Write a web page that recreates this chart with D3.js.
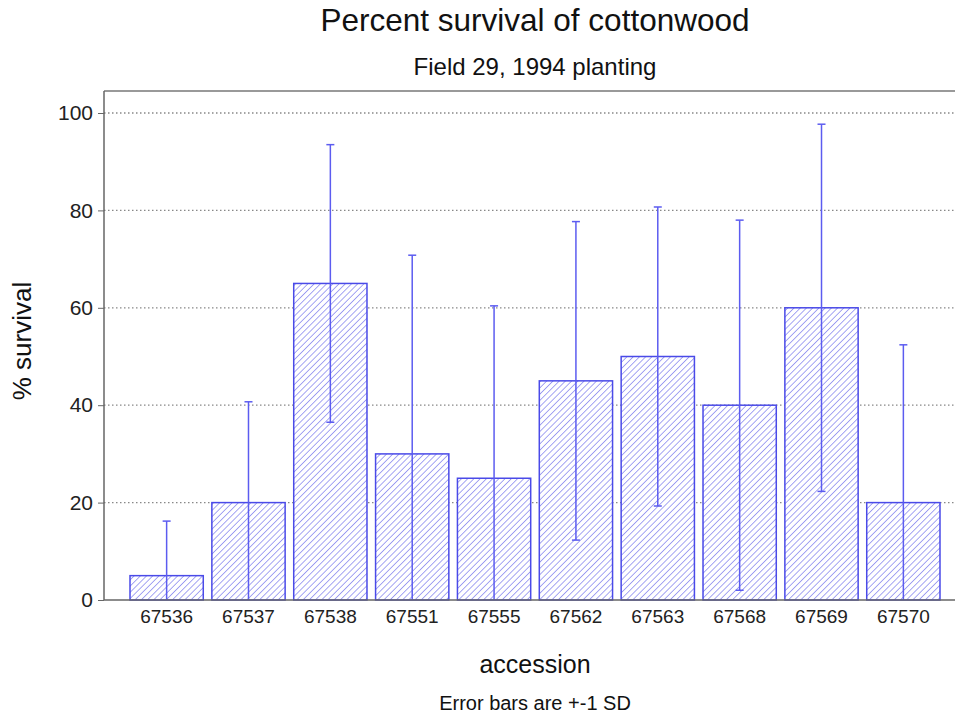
<!DOCTYPE html>
<html>
<head>
<meta charset="utf-8">
<script src="https://cdn.jsdelivr.net/npm/d3@7"></script>
<style>
  html, body { margin: 0; padding: 0; background: #fff; }
  svg { display: block; font-family: "Liberation Sans", Arial, sans-serif; }
</style>
</head>
<body>
<svg id="chart" width="955" height="715"></svg>
<script>
// Accessions and their mean percent survival with one standard deviation
const accessions = ["67536", "67537", "67538", "67551", "67555", "67562", "67563", "67568", "67569", "67570"];
const survival = [5, 20, 65, 30, 25, 45, 50, 40, 60, 20];
const sd = [11.2, 20.7, 28.5, 40.8, 35.4, 32.7, 30.7, 38, 37.7, 32.4];
const yTicks = [0, 20, 40, 60, 80, 100];

const svg = d3.select("#chart");
const plot = { left: 104, right: 962, top: 91, bottom: 600 };

const x = d3.scaleBand()
  .domain(accessions)
  .range([125.5, 944.5])
  .paddingInner(0.105)
  .paddingOuter(0.055);

const y = d3.scaleLinear()
  .domain([0, 100])
  .range([plot.bottom, 113]);

// Diagonal hatch used as the bar fill
const defs = svg.append("defs");
const pat = defs.append("pattern")
  .attr("id", "hatch")
  .attr("patternUnits", "userSpaceOnUse")
  .attr("width", 4.4)
  .attr("height", 4.4)
  .attr("patternTransform", "rotate(45)");
pat.append("rect").attr("width", 4.4).attr("height", 4.4).attr("fill", "#fff");
pat.append("line")
  .attr("x1", 0).attr("y1", 0).attr("x2", 0).attr("y2", 4.4)
  .attr("stroke", "#8080ee").attr("stroke-width", 1.4);

// Titles
svg.append("text")
  .attr("x", 535).attr("y", 31)
  .attr("text-anchor", "middle")
  .attr("font-size", 31.5).attr("fill", "#111")
  .text("Percent survival of cottonwood");
svg.append("text")
  .attr("x", 535).attr("y", 75)
  .attr("text-anchor", "middle")
  .attr("font-size", 24).attr("fill", "#111")
  .text("Field 29, 1994 planting");

// Dotted gridlines
svg.append("g")
  .selectAll("line")
  .data(yTicks.filter(d => d > 0))
  .join("line")
  .attr("x1", plot.left).attr("x2", plot.right)
  .attr("y1", d => y(d)).attr("y2", d => y(d))
  .attr("stroke", "#888").attr("stroke-width", 1.3)
  .attr("stroke-dasharray", "1.5,2.5");

// Frame top edge
svg.append("line")
  .attr("x1", plot.left).attr("x2", plot.right)
  .attr("y1", plot.top).attr("y2", plot.top)
  .attr("stroke", "#777").attr("stroke-width", 1.5);

// Bars
svg.append("g")
  .selectAll("rect")
  .data(accessions)
  .join("rect")
  .attr("x", d => x(d))
  .attr("y", (d, i) => y(survival[i]))
  .attr("width", x.bandwidth())
  .attr("height", (d, i) => y(0) - y(survival[i]))
  .attr("fill", "url(#hatch)")
  .attr("stroke", "#4a4ae8").attr("stroke-width", 1.5);

// Error bars (+-1 SD, clipped at zero)
const err = svg.append("g")
  .attr("stroke", "#5c5cf0").attr("stroke-width", 1.5).attr("fill", "none");
accessions.forEach((a, i) => {
  const cx = x(a) + x.bandwidth() / 2;
  const hi = survival[i] + sd[i];
  const lo = Math.max(0, survival[i] - sd[i]);
  err.append("line")
    .attr("x1", cx).attr("x2", cx)
    .attr("y1", y(hi)).attr("y2", y(lo));
  err.append("line")
    .attr("x1", cx - 4).attr("x2", cx + 4)
    .attr("y1", y(hi)).attr("y2", y(hi));
  if (lo > 0) {
    err.append("line")
      .attr("x1", cx - 4).attr("x2", cx + 4)
      .attr("y1", y(lo)).attr("y2", y(lo));
  }
});

// Y axis
const yAxis = svg.append("g")
  .attr("transform", `translate(${plot.left},0)`)
  .call(d3.axisLeft(y).tickValues(yTicks).tickSize(6).tickPadding(5));
yAxis.select(".domain")
  .attr("d", `M0,${plot.top}V${plot.bottom}`)
  .attr("stroke", "#666").attr("stroke-width", 1.5);
yAxis.selectAll(".tick line").attr("stroke", "#666");
yAxis.selectAll(".tick text")
  .attr("font-size", 21).attr("fill", "#222")
  .attr("font-family", "Liberation Sans, Arial, sans-serif");

// X axis
const xAxis = svg.append("g")
  .attr("transform", `translate(0,${plot.bottom})`)
  .call(d3.axisBottom(x).tickSize(0).tickPadding(10));
xAxis.select(".domain")
  .attr("d", `M${plot.left},0H${plot.right}`)
  .attr("stroke", "#666").attr("stroke-width", 1.5);
xAxis.selectAll(".tick text")
  .attr("font-size", 19).attr("fill", "#222")
  .attr("font-family", "Liberation Sans, Arial, sans-serif");

// Axis titles and note
svg.append("text")
  .attr("transform", "translate(31,341) rotate(-90)")
  .attr("text-anchor", "middle")
  .attr("font-size", 26).attr("fill", "#111")
  .text("% survival");
svg.append("text")
  .attr("x", 535).attr("y", 673)
  .attr("text-anchor", "middle")
  .attr("font-size", 25).attr("fill", "#111")
  .text("accession");
svg.append("text")
  .attr("x", 535).attr("y", 710)
  .attr("text-anchor", "middle")
  .attr("font-size", 20).attr("fill", "#111")
  .text("Error bars are +-1 SD");
</script>
</body>
</html>
